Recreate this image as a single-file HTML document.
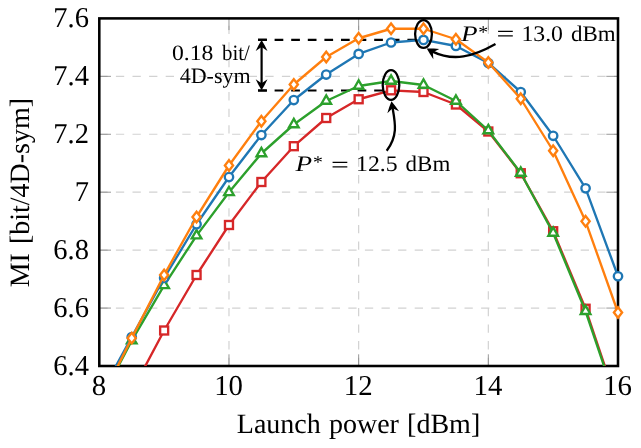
<!DOCTYPE html>
<html><head><meta charset="utf-8"><title>MI vs launch power</title>
<style>
html,body{margin:0;padding:0;background:#fff;}
body{width:641px;height:448px;overflow:hidden;}
svg{display:block;will-change:transform;font-family:"Liberation Serif",serif;}
text{text-rendering:geometricPrecision;}
</style></head><body>
<svg width="641" height="448" viewBox="0 0 641 448">
<defs><path id="ah" d="M0.3 0C-3.4 2.2 -7.2 4.3 -10.8 5.9L-6.8 0L-10.8 -5.9C-7.2 -4.3 -3.4 -2.2 0.3 0Z" fill="#000" stroke="none"/><clipPath id="cp"><rect x="99.30" y="18.40" width="518.70" height="347.60"/></clipPath></defs>
<rect width="641" height="448" fill="#fff"/>
<g stroke="#d2d2d2" stroke-width="1.2" stroke-dasharray="8.3 8.3" fill="none"><line x1="228.98" y1="366.00" x2="228.98" y2="18.40"/><line x1="358.65" y1="366.00" x2="358.65" y2="18.40"/><line x1="488.33" y1="366.00" x2="488.33" y2="18.40"/><line x1="99.30" y1="308.07" x2="618.00" y2="308.07"/><line x1="99.30" y1="250.13" x2="618.00" y2="250.13"/><line x1="99.30" y1="192.20" x2="618.00" y2="192.20"/><line x1="99.30" y1="134.27" x2="618.00" y2="134.27"/><line x1="99.30" y1="76.33" x2="618.00" y2="76.33"/></g>
<g stroke="#777" stroke-width="0.75" fill="none"><line x1="228.98" y1="366.00" x2="228.98" y2="354.30"/><line x1="228.98" y1="18.40" x2="228.98" y2="30.10"/><line x1="358.65" y1="366.00" x2="358.65" y2="354.30"/><line x1="358.65" y1="18.40" x2="358.65" y2="30.10"/><line x1="488.33" y1="366.00" x2="488.33" y2="354.30"/><line x1="488.33" y1="18.40" x2="488.33" y2="30.10"/><line x1="99.30" y1="308.07" x2="111.00" y2="308.07"/><line x1="618.00" y1="308.07" x2="606.30" y2="308.07"/><line x1="99.30" y1="250.13" x2="111.00" y2="250.13"/><line x1="618.00" y1="250.13" x2="606.30" y2="250.13"/><line x1="99.30" y1="192.20" x2="111.00" y2="192.20"/><line x1="618.00" y1="192.20" x2="606.30" y2="192.20"/><line x1="99.30" y1="134.27" x2="111.00" y2="134.27"/><line x1="618.00" y1="134.27" x2="606.30" y2="134.27"/><line x1="99.30" y1="76.33" x2="111.00" y2="76.33"/><line x1="618.00" y1="76.33" x2="606.30" y2="76.33"/></g>
<rect x="99.30" y="18.40" width="518.70" height="347.60" fill="none" stroke="#000" stroke-width="2.55"/>
<g font-size="28.8px" fill="#000"><text transform="translate(89.0,27.40) scale(0.99,1)" text-anchor="end">7.6</text><text transform="translate(89.0,85.33) scale(0.99,1)" text-anchor="end">7.4</text><text transform="translate(89.0,143.27) scale(0.99,1)" text-anchor="end">7.2</text><text transform="translate(89.0,201.20) scale(0.99,1)" text-anchor="end">7</text><text transform="translate(89.0,259.13) scale(0.99,1)" text-anchor="end">6.8</text><text transform="translate(89.0,317.07) scale(0.99,1)" text-anchor="end">6.6</text><text transform="translate(89.0,375.00) scale(0.99,1)" text-anchor="end">6.4</text><text x="98.90" y="395.0" text-anchor="middle">8</text><text x="228.58" y="395.0" text-anchor="middle">10</text><text x="358.25" y="395.0" text-anchor="middle">12</text><text x="487.93" y="395.0" text-anchor="middle">14</text><text x="617.60" y="395.0" text-anchor="middle">16</text></g>
<text x="358.5" y="432.9" font-size="28px" text-anchor="middle" word-spacing="1.2px">Launch power [dBm]</text>
<text transform="translate(28.9,192.6) rotate(-90)" font-size="28px" text-anchor="middle" word-spacing="2px">MI [bit/4D-sym]</text>
<!-- annotation: dashed reference lines and double arrow -->
<g stroke="#000" stroke-width="2.2" fill="none">
<line x1="258.0" y1="39.8" x2="423.4" y2="39.8" stroke-dasharray="8.7 7.9"/>
<line x1="258.0" y1="90.5" x2="391" y2="90.5" stroke-dasharray="8.7 7.9"/>
<line x1="261.6" y1="45" x2="261.6" y2="85.3"/>
<line x1="258.0" y1="39.8" x2="267.0" y2="39.8"/>
<line x1="258.0" y1="90.5" x2="267.0" y2="90.5"/>
</g>
<use href="#ah" transform="translate(261.6,40.3) rotate(-90)"/>
<use href="#ah" transform="translate(261.6,90.0) rotate(90)"/>
<g font-size="22px" fill="#000">
<text transform="translate(171.9,60.3) scale(1.075,1)">0.18</text><text transform="translate(249.9,60.3) scale(0.95,1)" text-anchor="end">bit/</text>
<text x="250.6" y="83.0" text-anchor="end">4D-sym</text>
</g>
<g stroke="#d62728" stroke-width="2.35" fill="none" stroke-linejoin="round"><polyline clip-path="url(#cp)" points="99.30,452.00 131.72,391.60 164.14,330.50 196.56,275.00 228.98,225.00 261.39,182.00 293.81,146.20 326.23,118.00 358.65,99.25 391.07,90.30 423.49,92.00 455.91,104.50 488.33,131.50 520.74,173.25 553.16,231.25 585.58,308.75 618.00,405.30"/><g fill="#fff" stroke-linejoin="miter"><rect x="160.14" y="326.50" width="8.00" height="8.00"/><rect x="192.56" y="271.00" width="8.00" height="8.00"/><rect x="224.98" y="221.00" width="8.00" height="8.00"/><rect x="257.39" y="178.00" width="8.00" height="8.00"/><rect x="289.81" y="142.20" width="8.00" height="8.00"/><rect x="322.23" y="114.00" width="8.00" height="8.00"/><rect x="354.65" y="95.25" width="8.00" height="8.00"/><rect x="387.07" y="86.30" width="8.00" height="8.00"/><rect x="419.49" y="88.00" width="8.00" height="8.00"/><rect x="451.91" y="100.50" width="8.00" height="8.00"/><rect x="484.33" y="127.50" width="8.00" height="8.00"/><rect x="516.74" y="169.25" width="8.00" height="8.00"/><rect x="549.16" y="227.25" width="8.00" height="8.00"/><rect x="581.58" y="304.75" width="8.00" height="8.00"/></g></g>
<g stroke="#2ca02c" stroke-width="2.35" fill="none" stroke-linejoin="round"><polyline clip-path="url(#cp)" points="99.30,402.60 131.72,340.60 164.14,285.30 196.56,235.60 228.98,192.30 261.39,153.50 293.81,124.50 326.23,101.00 358.65,86.00 391.07,81.00 423.49,85.00 455.91,101.00 488.33,130.50 520.74,173.00 553.16,233.00 585.58,311.25 618.00,407.40"/><g fill="#fff" stroke-linejoin="miter"><path d="M131.72 335.05L136.53 343.38L126.91 343.38Z"/><path d="M164.14 279.75L168.94 288.07L159.33 288.07Z"/><path d="M196.56 230.05L201.36 238.38L191.75 238.38Z"/><path d="M228.98 186.75L233.78 195.08L224.17 195.08Z"/><path d="M261.39 147.95L266.20 156.28L256.59 156.28Z"/><path d="M293.81 118.95L298.62 127.28L289.01 127.28Z"/><path d="M326.23 95.45L331.04 103.78L321.42 103.78Z"/><path d="M358.65 80.45L363.46 88.78L353.84 88.78Z"/><path d="M391.07 75.45L395.88 83.78L386.26 83.78Z"/><path d="M423.49 79.45L428.29 87.78L418.68 87.78Z"/><path d="M455.91 95.45L460.71 103.78L451.10 103.78Z"/><path d="M488.33 124.95L493.13 133.28L483.52 133.28Z"/><path d="M520.74 167.45L525.55 175.78L515.94 175.78Z"/><path d="M553.16 227.45L557.97 235.78L548.36 235.78Z"/><path d="M585.58 305.70L590.39 314.02L580.77 314.02Z"/></g></g>
<g stroke="#1f77b4" stroke-width="2.35" fill="none" stroke-linejoin="round"><polyline clip-path="url(#cp)" points="99.30,396.50 131.72,337.00 164.14,278.00 196.56,224.25 228.98,177.00 261.39,135.00 293.81,100.00 326.23,74.50 358.65,53.90 391.07,42.50 423.49,39.90 455.91,46.00 488.33,63.00 520.74,92.00 553.16,135.75 585.58,188.30 618.00,276.25"/><g fill="#fff" stroke-linejoin="miter"><circle cx="131.72" cy="337.00" r="4.2"/><circle cx="164.14" cy="278.00" r="4.2"/><circle cx="196.56" cy="224.25" r="4.2"/><circle cx="228.98" cy="177.00" r="4.2"/><circle cx="261.39" cy="135.00" r="4.2"/><circle cx="293.81" cy="100.00" r="4.2"/><circle cx="326.23" cy="74.50" r="4.2"/><circle cx="358.65" cy="53.90" r="4.2"/><circle cx="391.07" cy="42.50" r="4.2"/><circle cx="423.49" cy="39.90" r="4.2"/><circle cx="455.91" cy="46.00" r="4.2"/><circle cx="488.33" cy="63.00" r="4.2"/><circle cx="520.74" cy="92.00" r="4.2"/><circle cx="553.16" cy="135.75" r="4.2"/><circle cx="585.58" cy="188.30" r="4.2"/><circle cx="618.00" cy="276.25" r="4.2"/></g></g>
<g stroke="#ff7f0e" stroke-width="2.35" fill="none" stroke-linejoin="round"><polyline clip-path="url(#cp)" points="99.30,403.00 131.72,338.10 164.14,275.00 196.56,217.00 228.98,165.50 261.39,121.25 293.81,84.50 326.23,57.00 358.65,38.25 391.07,28.75 423.49,28.75 455.91,39.25 488.33,62.50 520.74,98.75 553.16,150.75 585.58,221.30 618.00,312.50"/><g fill="#fff" stroke-linejoin="miter"><path d="M131.72 332.80L135.82 338.10L131.72 343.40L127.62 338.10Z"/><path d="M164.14 269.70L168.24 275.00L164.14 280.30L160.04 275.00Z"/><path d="M196.56 211.70L200.66 217.00L196.56 222.30L192.46 217.00Z"/><path d="M228.98 160.20L233.08 165.50L228.98 170.80L224.88 165.50Z"/><path d="M261.39 115.95L265.49 121.25L261.39 126.55L257.29 121.25Z"/><path d="M293.81 79.20L297.91 84.50L293.81 89.80L289.71 84.50Z"/><path d="M326.23 51.70L330.33 57.00L326.23 62.30L322.13 57.00Z"/><path d="M358.65 32.95L362.75 38.25L358.65 43.55L354.55 38.25Z"/><path d="M391.07 23.45L395.17 28.75L391.07 34.05L386.97 28.75Z"/><path d="M423.49 23.45L427.59 28.75L423.49 34.05L419.39 28.75Z"/><path d="M455.91 33.95L460.01 39.25L455.91 44.55L451.81 39.25Z"/><path d="M488.33 57.20L492.43 62.50L488.33 67.80L484.23 62.50Z"/><path d="M520.74 93.45L524.84 98.75L520.74 104.05L516.64 98.75Z"/><path d="M553.16 145.45L557.26 150.75L553.16 156.05L549.06 150.75Z"/><path d="M585.58 216.00L589.68 221.30L585.58 226.60L581.48 221.30Z"/><path d="M618.00 307.20L622.10 312.50L618.00 317.80L613.90 312.50Z"/></g></g>

<!-- ellipses and arrows -->
<g stroke="#000" stroke-width="2.3" fill="none">
<ellipse cx="423.5" cy="34" rx="8.4" ry="13.9"/>
<ellipse cx="391" cy="85" rx="8.3" ry="14.9"/>
<path d="M495.50 44.00C472.90 56.74 453.68 61.87 431.95 51.35"/>
<path d="M386.70 150.80C398.13 135.77 395.30 123.17 392.44 107.10"/>
</g>
<use href="#ah" transform="translate(427,48.7) rotate(-149.7)"/>
<use href="#ah" transform="translate(391.5,101.6) rotate(-99)"/>
<g transform="translate(0.00,0.00)" font-size="22.3px"><text transform="translate(460.9,40.6) scale(1.22,1)" font-style="italic">P</text><text transform="translate(478.3,37.6) scale(1.1,1)" font-size="18px">*</text><text transform="translate(496.4,41.3) scale(1.42,1)">=</text><text transform="translate(521.4,40.6) scale(1.065,1)">13.0</text><text transform="translate(570.9,40.6) scale(1.03,1)">dBm</text></g>
<g transform="translate(-165.30,130.40)" font-size="22.3px"><text transform="translate(460.9,40.6) scale(1.22,1)" font-style="italic">P</text><text transform="translate(478.3,37.6) scale(1.1,1)" font-size="18px">*</text><text transform="translate(496.4,41.3) scale(1.42,1)">=</text><text transform="translate(521.4,40.6) scale(1.065,1)">12.5</text><text transform="translate(570.9,40.6) scale(1.03,1)">dBm</text></g>
</svg>
</body></html>
